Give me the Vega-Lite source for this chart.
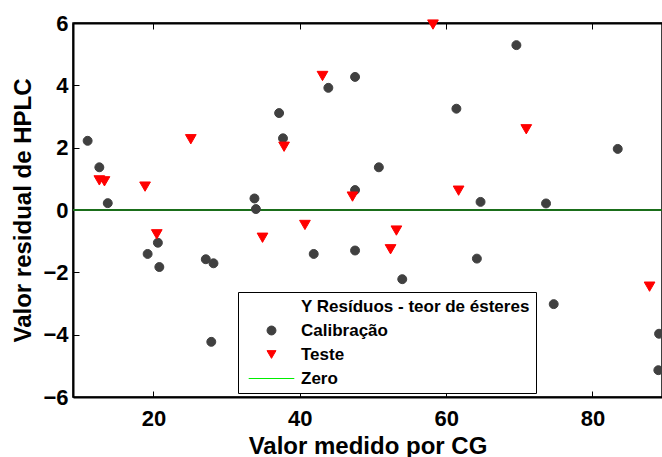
{
  "$schema": "https://vega.github.io/schema/vega-lite/v6.json",
  "autosize": {"type": "none"},
  "padding": {"left": 73, "top": 23, "right": 0, "bottom": 60},
  "width": 589,
  "height": 374,
  "background": "white",
  "config": {
    "font": "Liberation Sans",
    "view": {"stroke": "black", "strokeWidth": 1.5},
    "axis": {
      "grid": false,
      "domainColor": "black",
      "domainWidth": 2,
      "tickColor": "black",
      "tickWidth": 1,
      "labelFont": "Liberation Sans",
      "labelFontWeight": "bold",
      "labelFontSize": 22,
      "labelColor": "black",
      "titleFont": "Liberation Sans",
      "titleFontWeight": "bold",
      "titleFontSize": 24,
      "titleColor": "black"
    }
  },
  "data": {
    "values": [
      {"x": 11.0, "y": 2.22, "serie": "Calibração"},
      {"x": 12.6, "y": 1.37, "serie": "Calibração"},
      {"x": 13.75, "y": 0.22, "serie": "Calibração"},
      {"x": 33.8, "y": 0.37, "serie": "Calibração"},
      {"x": 34.0, "y": 0.03, "serie": "Calibração"},
      {"x": 43.9, "y": 3.92, "serie": "Calibração"},
      {"x": 47.55, "y": 4.27, "serie": "Calibração"},
      {"x": 37.17, "y": 3.11, "serie": "Calibração"},
      {"x": 37.7, "y": 2.3, "serie": "Calibração"},
      {"x": 50.8, "y": 1.37, "serie": "Calibração"},
      {"x": 47.55, "y": 0.64, "serie": "Calibração"},
      {"x": 69.6, "y": 5.29, "serie": "Calibração"},
      {"x": 61.4, "y": 3.25, "serie": "Calibração"},
      {"x": 83.45, "y": 1.96, "serie": "Calibração"},
      {"x": 64.7, "y": 0.26, "serie": "Calibração"},
      {"x": 73.65, "y": 0.21, "serie": "Calibração"},
      {"x": 20.6, "y": -1.05, "serie": "Calibração"},
      {"x": 19.2, "y": -1.41, "serie": "Calibração"},
      {"x": 20.8, "y": -1.83, "serie": "Calibração"},
      {"x": 27.15, "y": -1.58, "serie": "Calibração"},
      {"x": 28.2, "y": -1.71, "serie": "Calibração"},
      {"x": 27.9, "y": -4.23, "serie": "Calibração"},
      {"x": 41.9, "y": -1.41, "serie": "Calibração"},
      {"x": 47.55, "y": -1.3, "serie": "Calibração"},
      {"x": 54.0, "y": -2.22, "serie": "Calibração"},
      {"x": 64.2, "y": -1.56, "serie": "Calibração"},
      {"x": 74.7, "y": -3.02, "serie": "Calibração"},
      {"x": 89.1, "y": -3.97, "serie": "Calibração"},
      {"x": 89.0, "y": -5.14, "serie": "Calibração"},
      {"x": 12.6, "y": 0.95, "serie": "Teste"},
      {"x": 13.3, "y": 0.92, "serie": "Teste"},
      {"x": 18.85, "y": 0.75, "serie": "Teste"},
      {"x": 25.1, "y": 2.27, "serie": "Teste"},
      {"x": 58.2, "y": 5.95, "serie": "Teste"},
      {"x": 43.1, "y": 4.3, "serie": "Teste"},
      {"x": 37.85, "y": 2.03, "serie": "Teste"},
      {"x": 47.2, "y": 0.43, "serie": "Teste"},
      {"x": 70.95, "y": 2.59, "serie": "Teste"},
      {"x": 61.7, "y": 0.62, "serie": "Teste"},
      {"x": 20.45, "y": -0.78, "serie": "Teste"},
      {"x": 34.9, "y": -0.89, "serie": "Teste"},
      {"x": 40.7, "y": -0.48, "serie": "Teste"},
      {"x": 53.2, "y": -0.66, "serie": "Teste"},
      {"x": 52.4, "y": -1.26, "serie": "Teste"},
      {"x": 87.8, "y": -2.46, "serie": "Teste"}
    ]
  },
  "layer": [
    {
      "mark": {"type": "rule", "color": "#1a6e1a", "strokeWidth": 1.2},
      "encoding": {"y": {"datum": 0, "type": "quantitative"}}
    },
    {
      "mark": {"type": "point", "filled": true, "opacity": 1, "strokeWidth": 1},
      "encoding": {
        "x": {
          "field": "x", "type": "quantitative",
          "scale": {"domain": [9, 89.5], "nice": false, "zero": false},
          "axis": {"orient": "bottom", "values": [20, 40, 60, 80], "tickSize": -6, "labelPadding": 17, "title": "Valor medido por CG", "titlePadding": 5}
        },
        "y": {
          "field": "y", "type": "quantitative",
          "scale": {"domain": [-6, 6], "nice": false, "zero": false},
          "axis": {"values": [-6, -4, -2, 0, 2, 4, 6], "tickSize": -6, "labelPadding": 11, "title": "Valor residual de HPLC", "titlePadding": 7}
        },
        "fill": {
          "field": "serie", "type": "nominal",
          "scale": {"domain": ["Y Resíduos - teor de ésteres", "Calibração", "Teste", "Zero"], "range": ["transparent", "#404040", "#ff0000", "transparent"]},
          "legend": {"title": null, "orient": "none", "legendX": 165, "legendY": 269}
        },
        "stroke": {
          "field": "serie", "type": "nominal",
          "scale": {"domain": ["Y Resíduos - teor de ésteres", "Calibração", "Teste", "Zero"], "range": ["transparent", "#404040", "#ff0000", "#00ee00"]},
          "legend": {"title": null, "orient": "none", "legendX": 165, "legendY": 269}
        },
        "shape": {
          "field": "serie", "type": "nominal",
          "scale": {"domain": ["Y Resíduos - teor de ésteres", "Calibração", "Teste", "Zero"], "range": ["circle", "circle", "triangle-down", "M-5.1,0H5.1"]},
          "legend": {
            "title": null, "orient": "none", "legendX": 165, "legendY": 269,
            "strokeColor": "black", "fillColor": "white", "padding": 6,
            "labelFont": "Liberation Sans", "labelFontWeight": "bold", "labelFontSize": 17, "labelColor": "black",
            "labelLimit": 400, "symbolOffset": 19, "labelOffset": 21,
            "symbolSize": 80, "symbolStrokeWidth": 1, "rowPadding": 6, "symbolOpacity": 1
          }
        },
        "size": {"condition": {"test": "datum.serie === 'Teste'", "value": 115}, "value": 80}
      }
    },
    {
      "mark": {"type": "point", "opacity": 0},
      "encoding": {
        "x": {
          "field": "x", "type": "quantitative",
          "axis": {"orient": "top", "values": [20, 40, 60, 80], "tickSize": -6, "labels": false, "title": null}
        }
      }
    }
  ],
  "resolve": {"axis": {"x": "independent"}}
}
